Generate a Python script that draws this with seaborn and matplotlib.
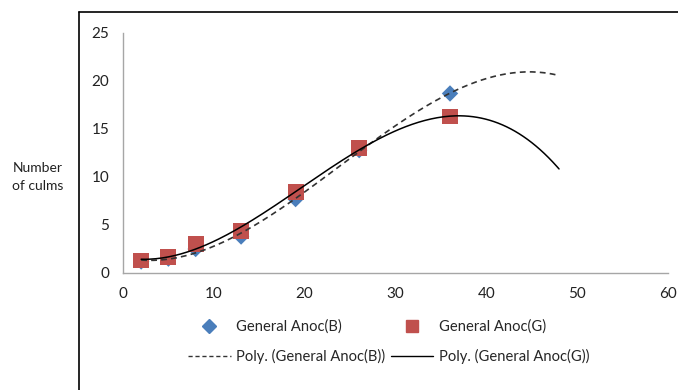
import numpy as np
import pandas as pd
import matplotlib
matplotlib.use("Agg")
import matplotlib.pyplot as plt
from matplotlib.lines import Line2D
import seaborn as sns

# Days after sowing and culm counts for the two treatments
days = [2, 5, 8, 13, 19, 26, 36]
anoc_b = [1.2, 1.5, 2.5, 3.8, 7.7, 12.8, 18.7]
anoc_g = [1.3, 1.65, 3.0, 4.4, 8.4, 13.0, 16.3]

label_b = "General Anoc(B)"
label_g = "General Anoc(G)"
trend_b = "Poly. (General Anoc(B))"
trend_g = "Poly. (General Anoc(G))"

x_ticks = [0, 10, 20, 30, 40, 50, 60]
y_ticks = [0, 5, 10, 15, 20, 25]

sns.set_theme(style="white")
plt.rcParams["font.family"] = ["Lato", "DejaVu Sans"]

fig = plt.figure(figsize=(6.78, 3.9), dpi=100)
ax = fig.add_axes([0.1814, 0.30, 0.8039, 0.6154])

blue = "#4A7EBB"
red = "#C0504D"

pts = pd.DataFrame({"days": days, "B": anoc_b, "G": anoc_g})
sns.scatterplot(data=pts, x="days", y="B", ax=ax, marker="D", s=70,
                color=blue, edgecolor="none", zorder=3)
sns.scatterplot(data=pts, x="days", y="G", ax=ax, marker="s", s=130,
                color=red, edgecolor="none", zorder=4)

# Third-order polynomial trend lines, projected forward to day 48
xs = np.linspace(days[0], 48, 200)
fit_b = np.polyval(np.polyfit(days, anoc_b, 3), xs)
fit_g = np.polyval(np.polyfit(days, anoc_g, 3), xs)
curves = pd.DataFrame({"x": xs, "fb": fit_b, "fg": fit_g})
sns.lineplot(data=curves, x="x", y="fb", ax=ax, color="#333333",
             linewidth=1.2, linestyle=(0, (3.5, 2.5)), zorder=5)
sns.lineplot(data=curves, x="x", y="fg", ax=ax, color="black",
             linewidth=1.1, zorder=6)

ax.set_xlim(0, 60)
ax.set_ylim(0, 25)
ax.set_xticks(x_ticks)
ax.set_yticks(y_ticks)
ax.set_xlabel("")
ax.set_ylabel("")
for side in ("top", "right"):
    ax.spines[side].set_visible(False)
for side in ("left", "bottom"):
    ax.spines[side].set_color("#A6A6A6")
    ax.spines[side].set_linewidth(1.0)
ax.tick_params(axis="both", which="major", direction="out", length=4,
               width=1.0, color="#A6A6A6", labelsize=11,
               labelcolor="#222222", pad=6)

fig.text(0.056, 0.545, "Number\nof culms", ha="center", va="center",
         fontsize=10, color="#222222", linespacing=1.6)

# Legend laid out column by column: B entries left, G entries right
handles = [
    Line2D([], [], marker="D", color=blue, linestyle="none", markersize=7),
    Line2D([], [], color="#333333", linewidth=1.0, linestyle=(0, (3, 2))),
    Line2D([], [], marker="s", color=red, linestyle="none", markersize=9),
    Line2D([], [], color="black", linewidth=1.0),
]
labels = [label_b, trend_b, label_g, trend_g]
fig.legend(handles, labels, ncol=2, loc="center",
           bbox_to_anchor=(0.573, 0.124), frameon=False, fontsize=10.6,
           handlelength=2.9, columnspacing=0.4, handletextpad=0.35,
           labelspacing=1.0)

# Chart-area border: left and top edges
fig.add_artist(Line2D([0.1165, 0.1165], [0.0, 0.969], color="black",
                      linewidth=1.2, transform=fig.transFigure))
fig.add_artist(Line2D([0.1165, 1.0], [0.969, 0.969], color="black",
                      linewidth=1.2, transform=fig.transFigure))

fig.savefig("out.png", dpi=100)
